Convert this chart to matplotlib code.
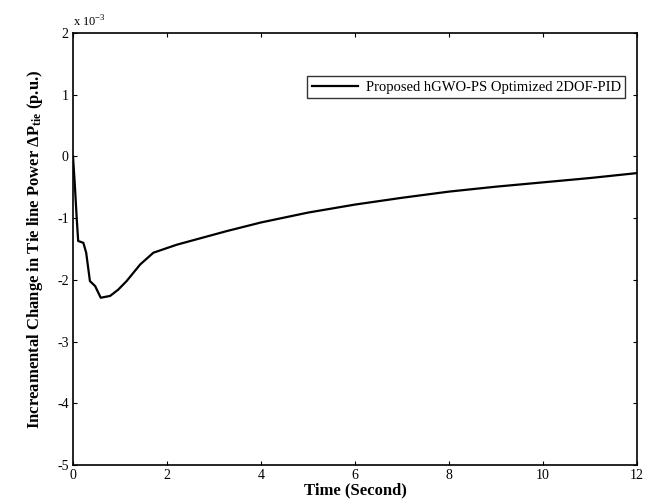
import matplotlib
matplotlib.use("Agg")
import matplotlib.pyplot as plt

# Tie-line power deviation response (values in units of 1e-3 p.u.)
time_s = [0, 0.04, 0.08, 0.11, 0.22, 0.28, 0.36, 0.47, 0.59, 0.79, 0.96, 1.14,
          1.43, 1.71, 2.21, 3.27, 4.0, 5.0, 6.0, 7.0, 8.0, 9.0, 10.0, 11.0, 12.0]
dp_tie = [0, -0.48, -1.02, -1.37, -1.40, -1.56, -2.02, -2.10, -2.29, -2.26, -2.16,
          -2.02, -1.75, -1.56, -1.43, -1.21, -1.07, -0.91, -0.78, -0.67, -0.57,
          -0.49, -0.42, -0.35, -0.27]
x_ticks = [0, 2, 4, 6, 8, 10, 12]
y_ticks = [-5, -4, -3, -2, -1, 0, 1, 2]
series_label = "Proposed hGWO-PS Optimized 2DOF-PID"

plt.rcParams["font.family"] = ["Liberation Serif", "DejaVu Serif"]
plt.rcParams["mathtext.fontset"] = "custom"
plt.rcParams["mathtext.rm"] = "Liberation Serif"
plt.rcParams["mathtext.bf"] = "Liberation Serif:bold"
plt.rcParams["axes.unicode_minus"] = False

fig = plt.figure(figsize=(6.56, 5.04), dpi=100)
ax = fig.add_axes([0.1113, 0.0774, 0.8597, 0.8571])

ax.plot(time_s, dp_tie, color="black", linewidth=1.6, label=series_label)

ax.set_xlim(0, 12)
ax.set_ylim(-5, 2)
ax.set_xticks(x_ticks)
ax.set_yticks(y_ticks)
ax.tick_params(direction="in", top=True, right=True, length=3, width=0.8,
               labelsize=10, pad=3)
for s in ax.spines.values():
    s.set_linewidth(1.2)

ax.set_xlabel("Time (Second)", fontsize=12, fontweight="bold", labelpad=0)
ax.set_ylabel(r"Increamental Change in Tie line Power $\mathbf{\Delta P_{tie}}$ (p.u.)",
              fontsize=12, fontweight="bold", labelpad=9)

ax.text(0.0, 1.008, r"x 10$^{-3}$", transform=ax.transAxes, fontsize=9,
        ha="left", va="bottom")

leg = ax.legend(loc="upper right", bbox_to_anchor=(0.979, 0.9), fontsize=10.5,
                frameon=True, fancybox=False, edgecolor="black",
                handlelength=3.2, borderpad=0.3, handletextpad=0.5,
                borderaxespad=0)
leg.get_frame().set_linewidth(1.0)

fig.savefig("out.png", dpi=100)
